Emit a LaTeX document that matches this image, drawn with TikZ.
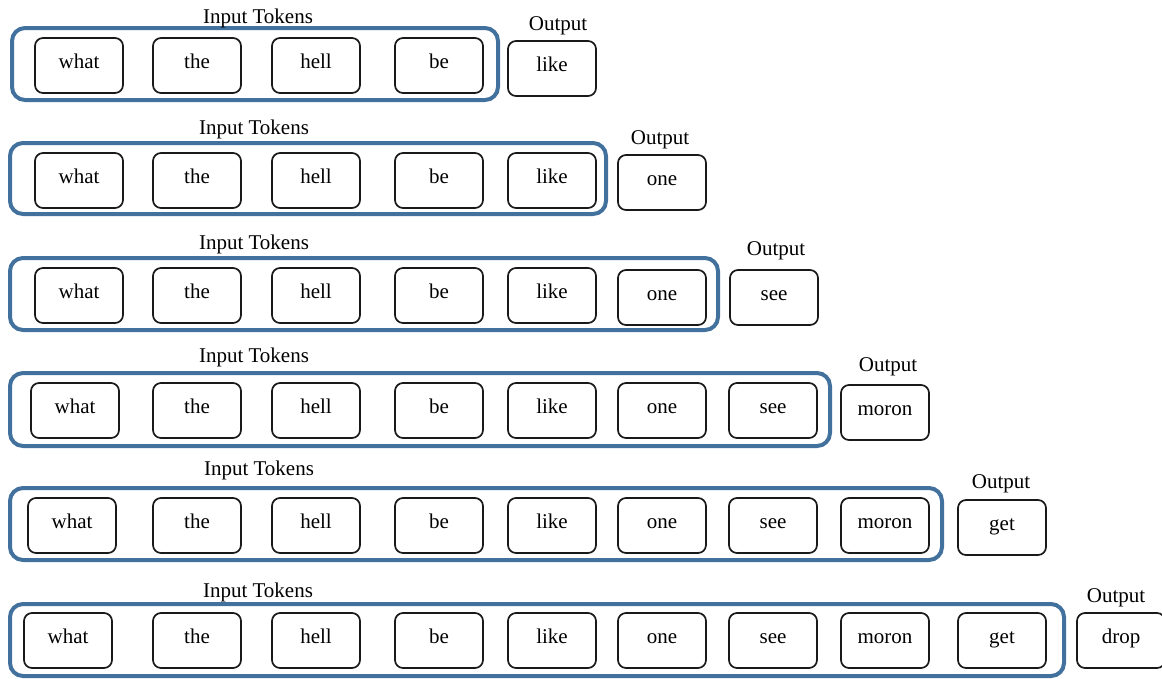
\documentclass[tikz,border=0pt]{standalone}
\usepackage{fontspec}
\setmainfont{Liberation Serif}
\definecolor{grpblue}{RGB}{65,113,156}
\definecolor{tokline}{RGB}{25,25,25}
\begin{document}
\begin{tikzpicture}[x=1pt,y=-1pt,
  tok/.style={draw=tokline, line width=1.7pt, rounded corners=8pt,
    minimum width=88pt, minimum height=55pt, inner sep=0pt,
    font=\fontsize{21}{24}\selectfont, text height=12pt, text depth=6pt},
  grp/.style={draw=grpblue, line width=4pt, rounded corners=13pt, inner sep=0pt},
  ttl/.style={font=\fontsize{21}{24}\selectfont, inner sep=0pt, yshift=-2pt}
]
\useasboundingbox (0,0) rectangle (1162,678);

% Row 1
\node[grp, minimum width=486pt, minimum height=72pt] (g1) at (255,64) {};
\node[ttl] (it1) at (258,16) {Input Tokens};
\node[tok] (r1a) at (79,65.5) {what};
\node[tok] (r1b) at (197,65.5) {the};
\node[tok] (r1c) at (316,65.5) {hell};
\node[tok] (r1d) at (439,65.5) {be};
\node[tok] (o1) at (552,68.5) {like};
\node[ttl] (ol1) at (558,24) {Output};

% Row 2
\node[grp, minimum width=596pt, minimum height=71pt] (g2) at (308,178.5) {};
\node[ttl] (it2) at (254,127) {Input Tokens};
\node[tok] (r2a) at (79,180.5) {what};
\node[tok] (r2b) at (197,180.5) {the};
\node[tok] (r2c) at (316,180.5) {hell};
\node[tok] (r2d) at (439,180.5) {be};
\node[tok] (r2e) at (552,180.5) {like};
\node[tok] (o2) at (662,182.5) {one};
\node[ttl] (ol2) at (660,138) {Output};

% Row 3
\node[grp, minimum width=708pt, minimum height=72pt] (g3) at (364,294) {};
\node[ttl] (it3) at (254,242) {Input Tokens};
\node[tok] (r3a) at (79,295.5) {what};
\node[tok] (r3b) at (197,295.5) {the};
\node[tok] (r3c) at (316,295.5) {hell};
\node[tok] (r3d) at (439,295.5) {be};
\node[tok] (r3e) at (552,295.5) {like};
\node[tok] (r3f) at (662,297.5) {one};
\node[tok] (o3) at (774,297.5) {see};
\node[ttl] (ol3) at (776,249) {Output};

% Row 4
\node[grp, minimum width=820pt, minimum height=73pt] (g4) at (420,409.5) {};
\node[ttl] (it4) at (254,355) {Input Tokens};
\node[tok] (r4a) at (75,410.5) {what};
\node[tok] (r4b) at (197,410.5) {the};
\node[tok] (r4c) at (316,410.5) {hell};
\node[tok] (r4d) at (439,410.5) {be};
\node[tok] (r4e) at (552,410.5) {like};
\node[tok] (r4f) at (662,410.5) {one};
\node[tok] (r4g) at (773,410.5) {see};
\node[tok] (o4) at (885,412.5) {moron};
\node[ttl] (ol4) at (888,365) {Output};

% Row 5
\node[grp, minimum width=932pt, minimum height=72pt] (g5) at (476,524) {};
\node[ttl] (it5) at (259,468) {Input Tokens};
\node[tok] (r5a) at (72,525.5) {what};
\node[tok] (r5b) at (197,525.5) {the};
\node[tok] (r5c) at (316,525.5) {hell};
\node[tok] (r5d) at (439,525.5) {be};
\node[tok] (r5e) at (552,525.5) {like};
\node[tok] (r5f) at (662,525.5) {one};
\node[tok] (r5g) at (773,525.5) {see};
\node[tok] (r5h) at (885,525.5) {moron};
\node[tok] (o5) at (1002,527.5) {get};
\node[ttl] (ol5) at (1001,482) {Output};

% Row 6
\node[grp, minimum width=1054pt, minimum height=72pt] (g6) at (537,640) {};
\node[ttl] (it6) at (258,590) {Input Tokens};
\node[tok] (r6a) at (68,640.5) {what};
\node[tok] (r6b) at (197,640.5) {the};
\node[tok] (r6c) at (316,640.5) {hell};
\node[tok] (r6d) at (439,640.5) {be};
\node[tok] (r6e) at (552,640.5) {like};
\node[tok] (r6f) at (662,640.5) {one};
\node[tok] (r6g) at (773,640.5) {see};
\node[tok] (r6h) at (885,640.5) {moron};
\node[tok] (r6i) at (1002,640.5) {get};
\node[tok] (o6) at (1121,640.5) {drop};
\node[ttl] (ol6) at (1116,596) {Output};
\end{tikzpicture}
\end{document}
